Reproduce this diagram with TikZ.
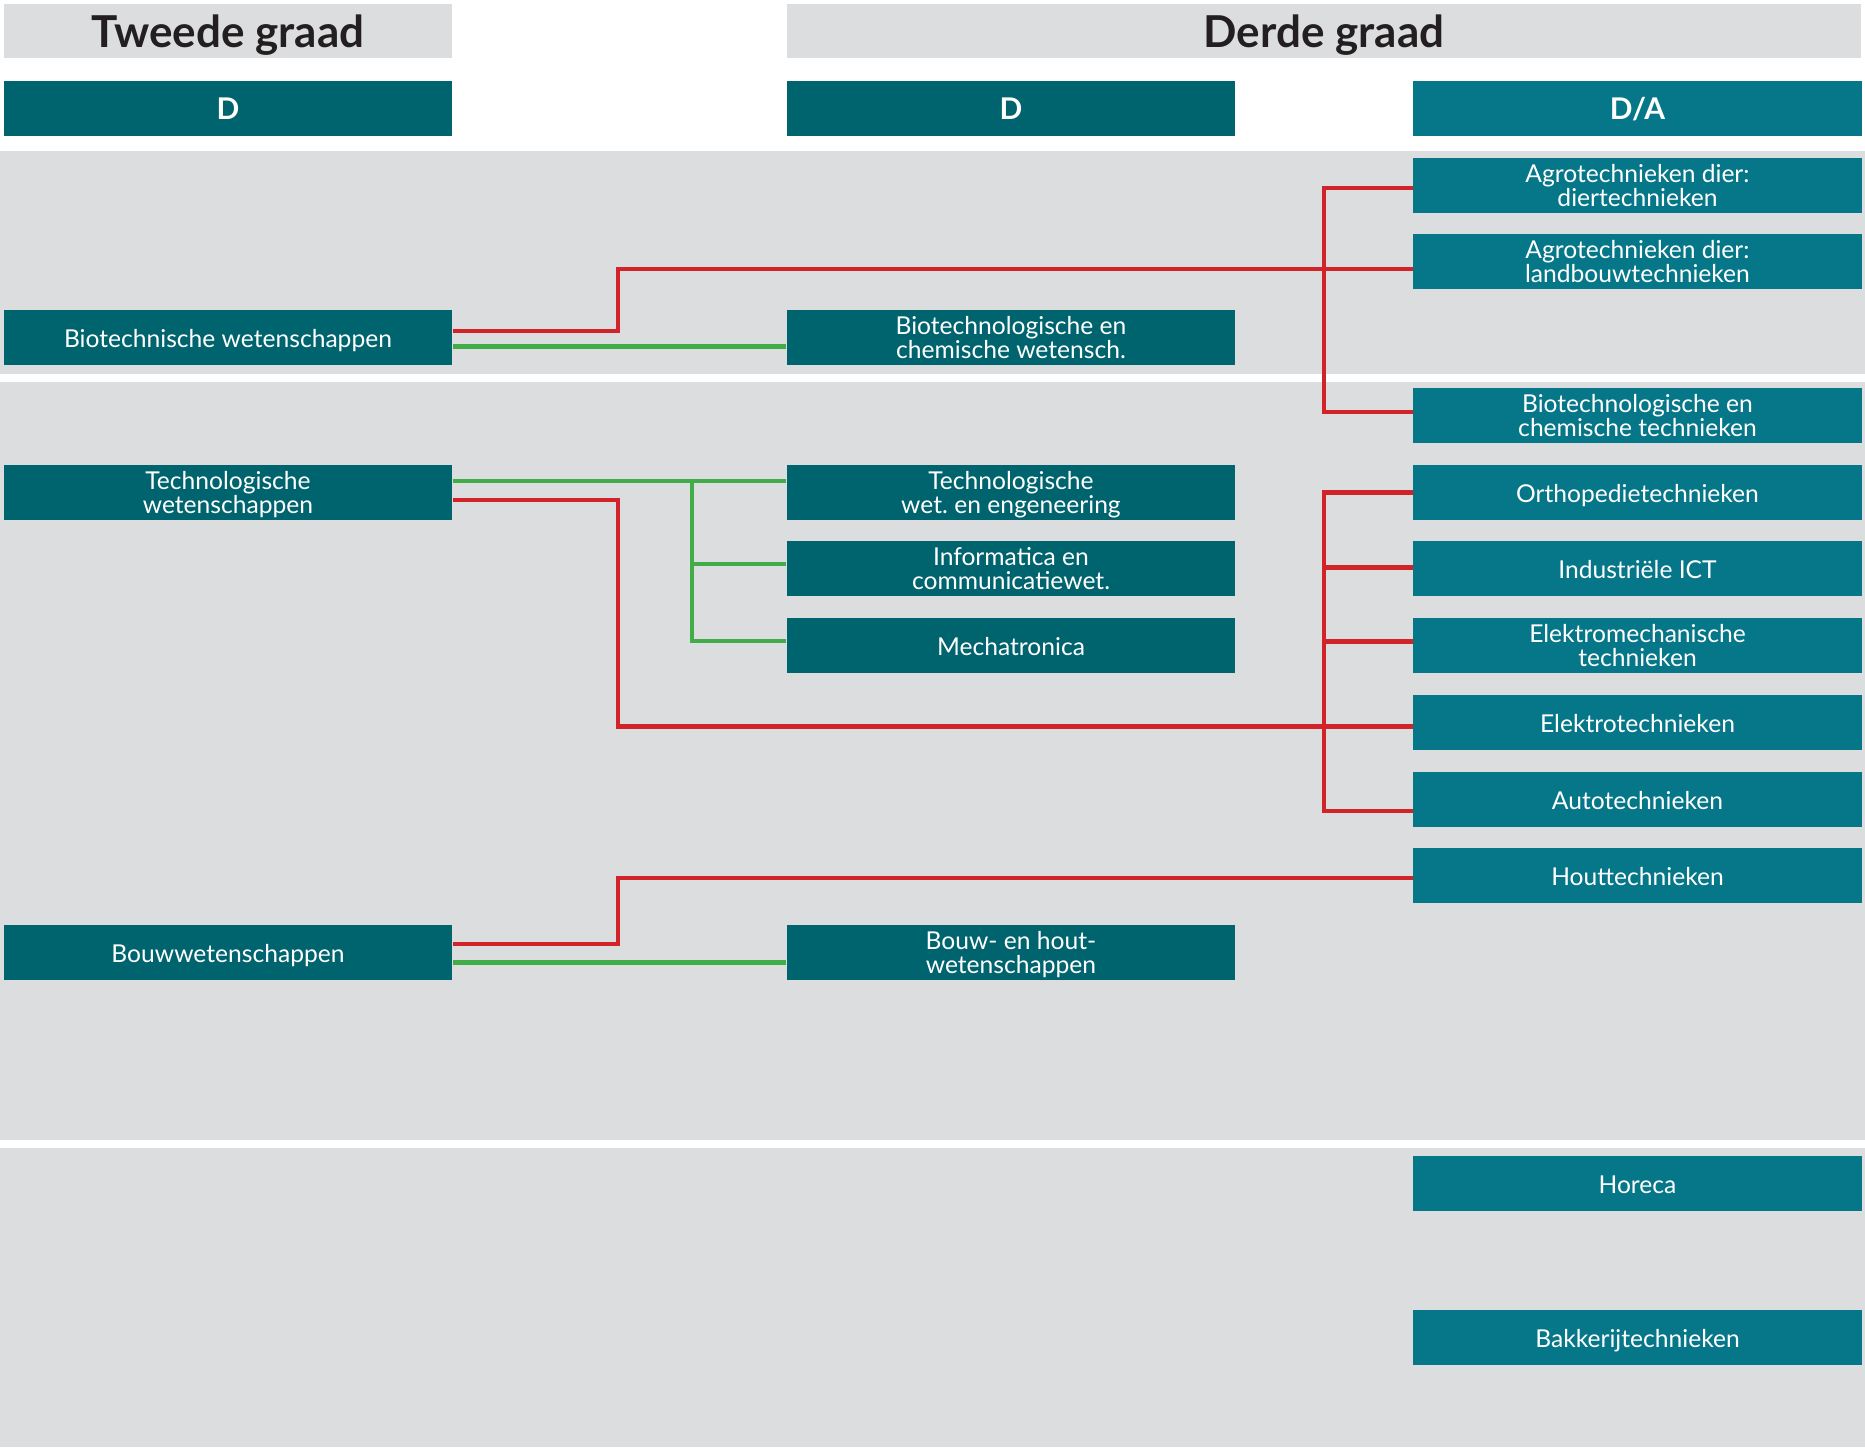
\documentclass[tikz,border=0pt]{standalone}
\usepackage{fontspec}
\setmainfont{Lato}
\frenchspacing
\usetikzlibrary{calc}
\definecolor{tealdark}{HTML}{00646F}
\definecolor{teallight}{HTML}{067788}
\definecolor{bandgray}{HTML}{DCDDDF}
\definecolor{linered}{HTML}{D2232A}
\definecolor{linegreen}{HTML}{40AD48}
\definecolor{headtext}{HTML}{231F20}

\begin{document}
\begin{tikzpicture}[yscale=-1, x=0.01cm, y=0.01cm,
    boxtext/.style={font=\fontsize{7}{6.8}\selectfont, text=white, align=center, inner sep=0pt, minimum width=4.48cm, minimum height=0.55cm, text height=5.8pt, text depth=0pt},
    twoline/.style={text height=11.7pt, text depth=0pt},
    dbox/.style={boxtext, fill=tealdark},
    dabox/.style={boxtext, fill=teallight},
    colhead/.style={font=\fontsize{8.5}{8.5}\selectfont\bfseries, text=white, inner sep=0pt, minimum width=4.48cm, minimum height=0.55cm, text height=6.1pt, text depth=0pt},
    gradehead/.style={font=\fontsize{12.5}{12.5}\selectfont\bfseries, text=headtext, fill=bandgray, inner sep=0pt, minimum height=0.54cm, text height=9.6pt, text depth=0pt},
    redline/.style={draw=linered, line width=1.3pt},
    greenline/.style={draw=linegreen, line width=1.3pt}]
    % page size
    \useasboundingbox (0,0) rectangle (1865,1447);
    % grey bands
    \fill[bandgray] (0,151) rectangle (1865,374);
    \fill[bandgray] (0,382) rectangle (1865,1140);
    \fill[bandgray] (0,1148) rectangle (1865,1447);
    % grade headers
    \node[gradehead, minimum width=4.48cm] (tweede) at (228,31) {Tweede graad};
    \node[gradehead, minimum width=10.74cm] (derde) at (1324,31) {Derde graad};
    % column headers
    \node[colhead, fill=tealdark] (dleft) at (228,108.5) {D};
    \node[colhead, fill=tealdark] (dmid) at (1011,108.5) {D};
    \node[colhead, fill=teallight] (dright) at (1637.5,108.5) {D/A};
    % tweede graad
    \node[dbox] (biosci) at (228,337.5) {Biotechnische wetenschappen};
    \node[dbox, twoline] (techsci) at (228,492.5) {Technologische\\wetenschappen};
    \node[dbox] (bouwsci) at (228,952.5) {Bouwwetenschappen};
    % derde graad D
    \node[dbox, twoline] (biochemw) at (1011,337.5) {Biotechnologische en\\chemische wetensch.};
    \node[dbox, twoline] (techeng) at (1011,492.5) {Technologische\\wet. en engeneering};
    \node[dbox, twoline] (infocom) at (1011,568.5) {Informatica en\\communicatiewet.};
    \node[dbox] (mechat) at (1011,645.5) {Mechatronica};
    \node[dbox, twoline] (bouwhout) at (1011,952.5) {Bouw- en hout-\\wetenschappen};
    % derde graad D/A
    \node[dabox, twoline] (agrodier) at (1637.5,185.5) {Agrotechnieken dier:\\diertechnieken};
    \node[dabox, twoline] (agroland) at (1637.5,261.5) {Agrotechnieken dier:\\landbouwtechnieken};
    \node[dabox, twoline] (biochemt) at (1637.5,415.5) {Biotechnologische en\\chemische technieken};
    \node[dabox] (ortho) at (1637.5,492.5) {Orthopedietechnieken};
    \node[dabox] (ict) at (1637.5,568.5) {Industriële ICT};
    \node[dabox, twoline] (elmech) at (1637.5,645.5) {Elektromechanische\\technieken};
    \node[dabox] (elektro) at (1637.5,722.5) {Elektrotechnieken};
    \node[dabox] (auto) at (1637.5,799.5) {Autotechnieken};
    \node[dabox] (hout) at (1637.5,875.5) {Houttechnieken};
    \node[dabox] (horeca) at (1637.5,1183.5) {Horeca};
    \node[dabox] (bakkerij) at (1637.5,1337) {Bakkerijtechnieken};
    % bends
    \coordinate (biojog) at (618,300);
    \coordinate (agrotrunk) at (1324,300);
    \coordinate (techfork) at (692,481);
    \coordinate (techjog) at (618,600);
    \coordinate (elektrunk) at (1324,650);
    \coordinate (bouwjog) at (618,910);
    % biotechnische links
    \draw[redline] ($(biosci.east)+(0,-6.5)$) -| (biojog) |- ($(agroland.west)+(0,7.5)$);
    \draw[redline] ($(agrodier.west)+(0,2.5)$) -| (agrotrunk) |- ($(biochemt.west)+(0,-3.5)$);
    \draw[greenline] ($(biosci.east)+(0,9)$) -- ($(biochemw.west)+(0,9)$);
    % technologische links
    \draw[greenline] ($(techsci.east)+(0,-11.5)$) -- ($(techeng.west)+(0,-11.5)$);
    \draw[greenline] (techfork) |- ($(infocom.west)+(0,-4.5)$);
    \draw[greenline] (techfork) |- ($(mechat.west)+(0,-4.5)$);
    \draw[redline] ($(techsci.east)+(0,7.5)$) -| (techjog) |- ($(elektro.west)+(0,4)$);
    \draw[redline] (ortho.west) -| (elektrunk) |- ($(auto.west)+(0,11.5)$);
    \draw[redline] ($(ict.west)+(0,-1)$) -- ++(-90,0);
    \draw[redline] ($(elmech.west)+(0,-4)$) -- ++(-90,0);
    % bouw links
    \draw[redline] ($(bouwsci.east)+(0,-8.5)$) -| (bouwjog) |- ($(hout.west)+(0,2.5)$);
    \draw[greenline] ($(bouwsci.east)+(0,10)$) -- ($(bouwhout.west)+(0,10)$);
\end{tikzpicture}
\end{document}
